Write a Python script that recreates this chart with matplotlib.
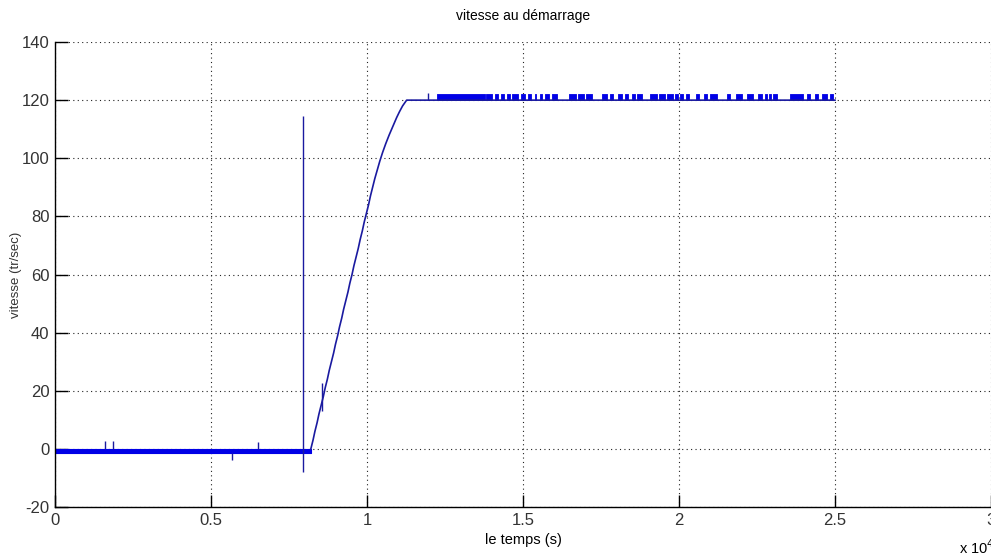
import numpy as np
import matplotlib
matplotlib.use('Agg')
from matplotlib import pyplot as plt

plt.rcParams['axes.unicode_minus'] = False

# vitesse mesurée (tr/sec) en fonction du temps (x 1e4 s)
ramp_t = [0.820, 0.827, 0.833, 0.840, 0.846, 0.853, 0.860, 0.866, 0.873, 0.879,
          0.886, 0.893, 0.899, 0.906, 0.912, 0.919, 0.925, 0.932, 0.939, 0.945,
          0.952, 0.958, 0.965, 0.972, 0.978, 0.985, 0.991, 0.998, 1.005, 1.011,
          1.018, 1.025, 1.033, 1.041, 1.050, 1.060, 1.071, 1.083, 1.095, 1.104,
          1.114, 1.127]
ramp_v = [0, 3, 6, 9, 12, 15, 18, 21, 24, 27,
          30, 33, 36, 39, 42, 45, 48, 51, 54, 57,
          60, 63, 66, 69, 72, 75, 78, 81, 84, 87,
          90, 93, 96, 99, 102, 105, 108, 111, 114, 116,
          118, 120]
t_fin = 2.5
v_regime = 120

# bande de bruit au repos (oscillation rapide entre 0 et -1.5)
repos_t = [0.0, 0.82]
repos_bas = -1.5
repos_haut = 0.0

# pics isolés : temps, début, fin
pics_t = [0.159, 0.187, 0.566, 0.650, 0.796, 0.856, 1.196]
pics_bas = [0, 0, -3.9, 0, -7.9, 13.0, 120]
pics_haut = [2.8, 2.8, -1.5, 2.5, 114.5, 22.6, 122.3]

# zones de commutation rapide entre 120 et 122 en régime établi
blocs = [(1.223, 1.378), (1.381, 1.400), (1.410, 1.419), (1.429, 1.438),
         (1.449, 1.457), (1.466, 1.483), (1.494, 1.506), (1.517, 1.526),
         (1.538, 1.542), (1.554, 1.562), (1.571, 1.583), (1.592, 1.608),
         (1.647, 1.669), (1.677, 1.694), (1.703, 1.720), (1.752, 1.769),
         (1.779, 1.789), (1.806, 1.816), (1.827, 1.835), (1.848, 1.859),
         (1.866, 1.881), (1.907, 1.928), (1.937, 1.954), (1.962, 1.980),
         (1.986, 1.997), (2.003, 2.014), (2.024, 2.033), (2.054, 2.063),
         (2.080, 2.089), (2.099, 2.123), (2.153, 2.163), (2.183, 2.202),
         (2.219, 2.236), (2.253, 2.266), (2.275, 2.281), (2.289, 2.296),
         (2.302, 2.313), (2.356, 2.398), (2.409, 2.420), (2.436, 2.447),
         (2.457, 2.475), (2.484, 2.495)]
bloc_bas = 120
bloc_haut = 122

xticks = [0, 0.5, 1, 1.5, 2, 2.5, 3]
xtick_labels = ['0', '0.5', '1', '1.5', '2', '2.5', '3']
yticks = [-20, 0, 20, 40, 60, 80, 100, 120, 140]

bleu = '#0000e6'
trait = '#1a1aa0'
font_fam = ['Liberation Sans']

fig = plt.figure(figsize=(9.91, 5.58), dpi=100)
ax = fig.add_axes([0.0555, 0.0914, 0.9445, 0.8333])

# bruit au repos
ax.fill_between(repos_t, repos_bas, repos_haut, color=bleu, lw=0.8, edgecolor=bleu)

# montée en vitesse puis régime établi
ax.plot(ramp_t + [t_fin], ramp_v + [v_regime], color=trait, lw=1.2)

for t0, t1 in blocs:
    ax.fill_between([t0, t1], bloc_bas, bloc_haut, color=bleu, lw=0.6, edgecolor=bleu)

ax.vlines(pics_t, pics_bas, pics_haut, color=trait, lw=1.0)

ax.set_xlim(0, 3)
ax.set_ylim(-20, 140)
ax.set_xticks(xticks)
ax.set_xticklabels(xtick_labels)
ax.set_yticks(yticks)

ax.grid(True, color='#222222', linestyle=(0, (1, 3)), linewidth=0.8)
ax.set_axisbelow(True)
ax.spines['top'].set_visible(False)
ax.spines['right'].set_visible(False)
ax.spines['left'].set_linewidth(1.0)
ax.spines['bottom'].set_linewidth(1.0)
ax.tick_params(direction='in', length=9, width=1.0, labelsize=12, pad=4)
for lab in ax.get_xticklabels() + ax.get_yticklabels():
    lab.set_family(font_fam)
    lab.set_color('#333333')

ax.set_title('vitesse au démarrage', fontsize=10, family=font_fam, pad=16)
ax.set_xlabel('le temps (s)', fontsize=10.5, family=font_fam, labelpad=4)
ax.set_ylabel('vitesse (tr/sec)', fontsize=9.5, family=font_fam, color='#333333')
ax.yaxis.set_label_coords(-0.035, 0.5)

fig.text(0.968, 0.002, 'x 10$^4$', fontsize=10.5, family=font_fam, ha='left', va='bottom')

plt.savefig('out.png', dpi=100)
